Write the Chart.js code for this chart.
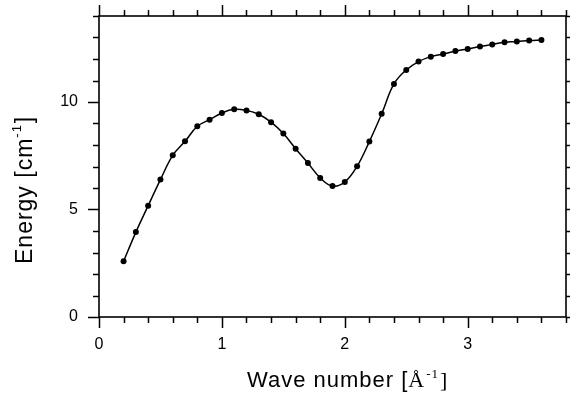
<!DOCTYPE html>
<html><head><meta charset="utf-8">
<script src="https://cdn.jsdelivr.net/npm/chart.js@4/dist/chart.umd.min.js"></script>
<style>html,body{margin:0;padding:0;background:#fff;}#wrap{width:570px;height:397px;}</style>
</head><body><div id="wrap"><canvas id="c" width="570" height="397"></canvas></div>
<script>
// ---- data ----
const waveNumber = [0.2,0.3,0.4,0.5,0.6,0.7,0.8,0.9,1.0,1.1,1.2,1.3,1.4,1.5,1.6,1.7,1.8,1.9,2.0,2.1,2.2,2.3,2.4,2.5,2.6,2.7,2.8,2.9,3.0,3.1,3.2,3.3,3.4,3.5,3.6];
const energy = [2.59,3.95,5.18,6.39,7.52,8.17,8.87,9.18,9.49,9.66,9.61,9.43,9.06,8.53,7.83,7.16,6.47,6.09,6.28,7.01,8.16,9.45,10.84,11.49,11.88,12.11,12.23,12.37,12.47,12.58,12.68,12.78,12.81,12.86,12.88];
const xMajorTicks = [0,1,2,3];
const xMinorTicks = [0.2,0.4,0.6,0.8,1.2,1.4,1.6,1.8,2.2,2.4,2.6,2.8,3.2,3.4,3.6,3.8];
const yMajorTicks = [0,5,10];
const yMinorTicks = [1,2,3,4,6,7,8,9,11,12,13,14];
const xTitle = ['Wave number [', 'Å', '-1', ']'];
const yTitle = ['Energy [cm', '-1', ']'];

const SANS = '"Liberation Sans", Arial, sans-serif';
const SERIF = '"Liberation Serif", "Times New Roman", serif';

const frame = {
  id: 'frame',
  afterDraw(chart) {
    const ctx = chart.ctx, a = chart.chartArea;
    const xs = chart.scales.x, ys = chart.scales.y;
    ctx.save();
    ctx.strokeStyle = '#000';
    ctx.lineWidth = 1.6;
    ctx.strokeRect(a.left, a.top, a.right - a.left, a.bottom - a.top);
    ctx.lineWidth = 1.5;
    const tick = (x1, y1, x2, y2) => { ctx.beginPath(); ctx.moveTo(x1, y1); ctx.lineTo(x2, y2); ctx.stroke(); };
    xMajorTicks.forEach(v => { const p = Math.round(xs.getPixelForValue(v)) + 0.5; tick(p, a.bottom, p, a.bottom + 11); tick(p, a.top, p, a.top - 11); });
    xMinorTicks.forEach(v => { const p = Math.round(xs.getPixelForValue(v)) + 0.5; tick(p, a.bottom, p, a.bottom + 6); tick(p, a.top, p, a.top - 6); });
    yMajorTicks.forEach(v => { const p = Math.round(ys.getPixelForValue(v)) + 0.5; tick(a.left, p, a.left - 11, p); tick(a.right, p, a.right + 11, p); });
    yMinorTicks.forEach(v => { const p = Math.round(ys.getPixelForValue(v)) + 0.5; tick(a.left, p, a.left - 6, p); tick(a.right, p, a.right + 6, p); });

    // axis titles
    ctx.fillStyle = '#000';
    ctx.textBaseline = 'alphabetic';
    ctx.textAlign = 'left';
    ctx.letterSpacing = '1px';
    let x = 247, y = 387;
    ctx.font = '22px ' + SANS; ctx.fillText(xTitle[0], x, y); x += ctx.measureText(xTitle[0]).width;
    ctx.font = '22px ' + SERIF; ctx.fillText(xTitle[1], x, y); x += ctx.measureText(xTitle[1]).width + 1;
    ctx.font = '13px ' + SERIF; ctx.fillText(xTitle[2], x, y - 9); x += ctx.measureText(xTitle[2]).width + 1;
    ctx.font = '22px ' + SERIF; ctx.fillText(xTitle[3], x, y);

    ctx.translate(32, 264);
    ctx.rotate(-Math.PI / 2);
    x = 0; y = 0;
    ctx.font = '23px ' + SANS; ctx.fillText(yTitle[0], x, y); x += ctx.measureText(yTitle[0]).width;
    ctx.font = '13px ' + SANS; ctx.fillText(yTitle[1], x, y - 11); x += ctx.measureText(yTitle[1]).width + 1;
    ctx.font = '23px ' + SANS; ctx.fillText(yTitle[2], x, y);
    ctx.restore();
  }
};

const hidden = () => ({ display: false });
new Chart(document.getElementById('c'), {
  type: 'line',
  data: {
    datasets: [{
      data: waveNumber.map((w, i) => ({ x: w, y: energy[i] })),
      borderColor: '#000', backgroundColor: '#000', borderWidth: 1.5,
      pointRadius: 3, pointHoverRadius: 3, pointBackgroundColor: '#000', pointBorderWidth: 0,
      tension: 0.4, fill: false, clip: false
    }]
  },
  options: {
    responsive: false, animation: false, devicePixelRatio: 1,
    layout: { padding: { top: 16, right: 4, left: 0, bottom: 0 }, autoPadding: false },
    plugins: { legend: hidden(), tooltip: { enabled: false }, title: hidden() },
    scales: {
      x: {
        type: 'linear', position: 'bottom', min: 0, max: 3.8,
        grid: { display: false, drawTicks: true, tickLength: 18 }, border: hidden(),
        ticks: { stepSize: 1, color: '#000', font: { family: SANS, size: 16 }, padding: 0, maxRotation: 0 },
        afterBuildTicks: s => { s.ticks = xMajorTicks.map(v => ({ value: v })); },
        afterFit: s => { s.height = 80; }
      },
      y: {
        type: 'linear', position: 'left', min: 0, max: 14,
        grid: { display: false, drawTicks: true, tickLength: 21 }, border: hidden(),
        ticks: { stepSize: 5, color: '#000', font: { family: SANS, size: 16 }, padding: 0 },
        afterBuildTicks: s => { s.ticks = yMajorTicks.map(v => ({ value: v })); },
        afterFit: s => { s.width = 99; }
      }
    }
  },
  plugins: [frame]
});
</script></body></html>
